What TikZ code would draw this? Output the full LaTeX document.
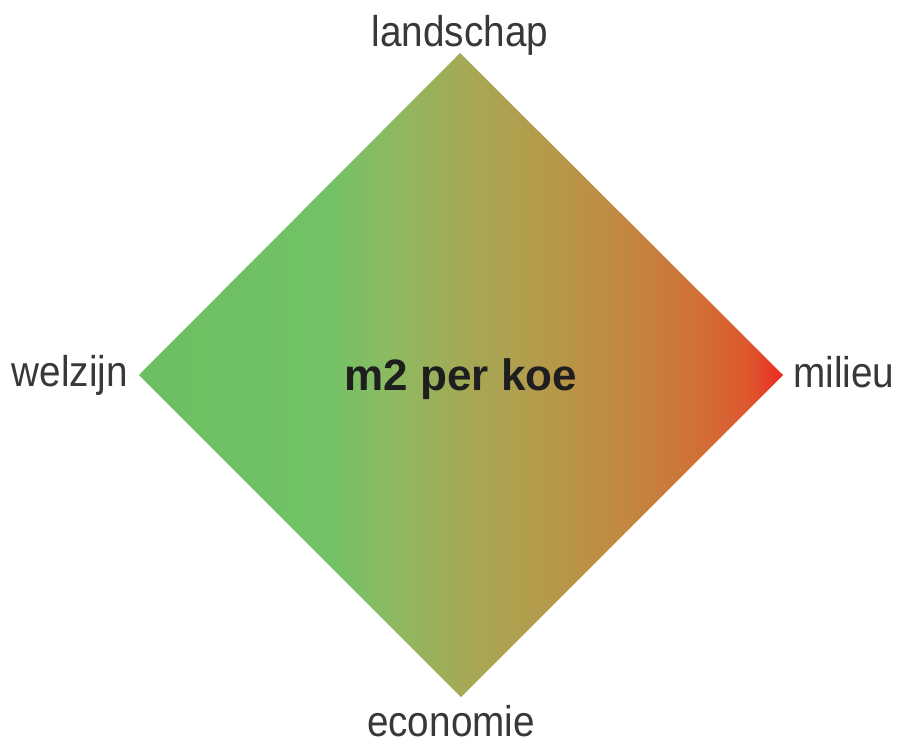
\documentclass[tikz,border=0pt]{standalone}
\usepackage{fontspec}
\setmainfont{Liberation Sans}[FakeStretch=0.9]
\newfontfamily\ctrfont{Liberation Sans}
\definecolor{lbl}{HTML}{383838}
\definecolor{ctr}{HTML}{1E1E1E}
\definecolor{c0}{RGB}{108,191,98}
\definecolor{c1}{RGB}{114,193,102}
\definecolor{c2}{RGB}{140,186,97}
\definecolor{c3}{RGB}{166,168,84}
\definecolor{c4}{RGB}{180,155,75}
\definecolor{c5}{RGB}{193,137,66}
\definecolor{c6}{RGB}{209,111,55}
\definecolor{c7}{RGB}{222,86,45}
\definecolor{c8}{RGB}{236,42,34}
\pgfdeclarehorizontalshading{koe}{100bp}{%
 color(0bp)=(c0); color(25bp)=(c0); color(39.8bp)=(c1); color(44.5bp)=(c2);
 color(50.7bp)=(c3); color(56.1bp)=(c4); color(62.3bp)=(c5); color(68.6bp)=(c6);
 color(72.4bp)=(c7); color(75bp)=(c8); color(100bp)=(c8)}
\tikzset{
 lab/.style={inner sep=0pt, text=lbl, font=\fontsize{43}{50}\selectfont},
 mid/.style={inner sep=0pt, text=ctr, font=\ctrfont\bfseries\fontsize{44}{52}\selectfont}
}
\begin{document}
\begin{tikzpicture}[x=1pt,y=-1pt]
\useasboundingbox (0,0) rectangle (897,744);
\coordinate (T) at (460,53);
\coordinate (L) at (139,375);
\coordinate (R) at (783,375);
\coordinate (B) at (461,697);
\shade[shading=koe] (T) -- (R) -- (B) -- (L) -- cycle;
\node[lab, anchor=base] (landschap) at (460,46) {landschap};
\node[lab, anchor=base east] (welzijn) at (128,386) {welzijn};
\node[lab, anchor=base west] (milieu) at (793,387) {milieu};
\node[lab, anchor=base] (economie) at (451,736) {economie};
\node[mid, anchor=base] (center) at (461,390) {m2 per koe};
\end{tikzpicture}
\end{document}
